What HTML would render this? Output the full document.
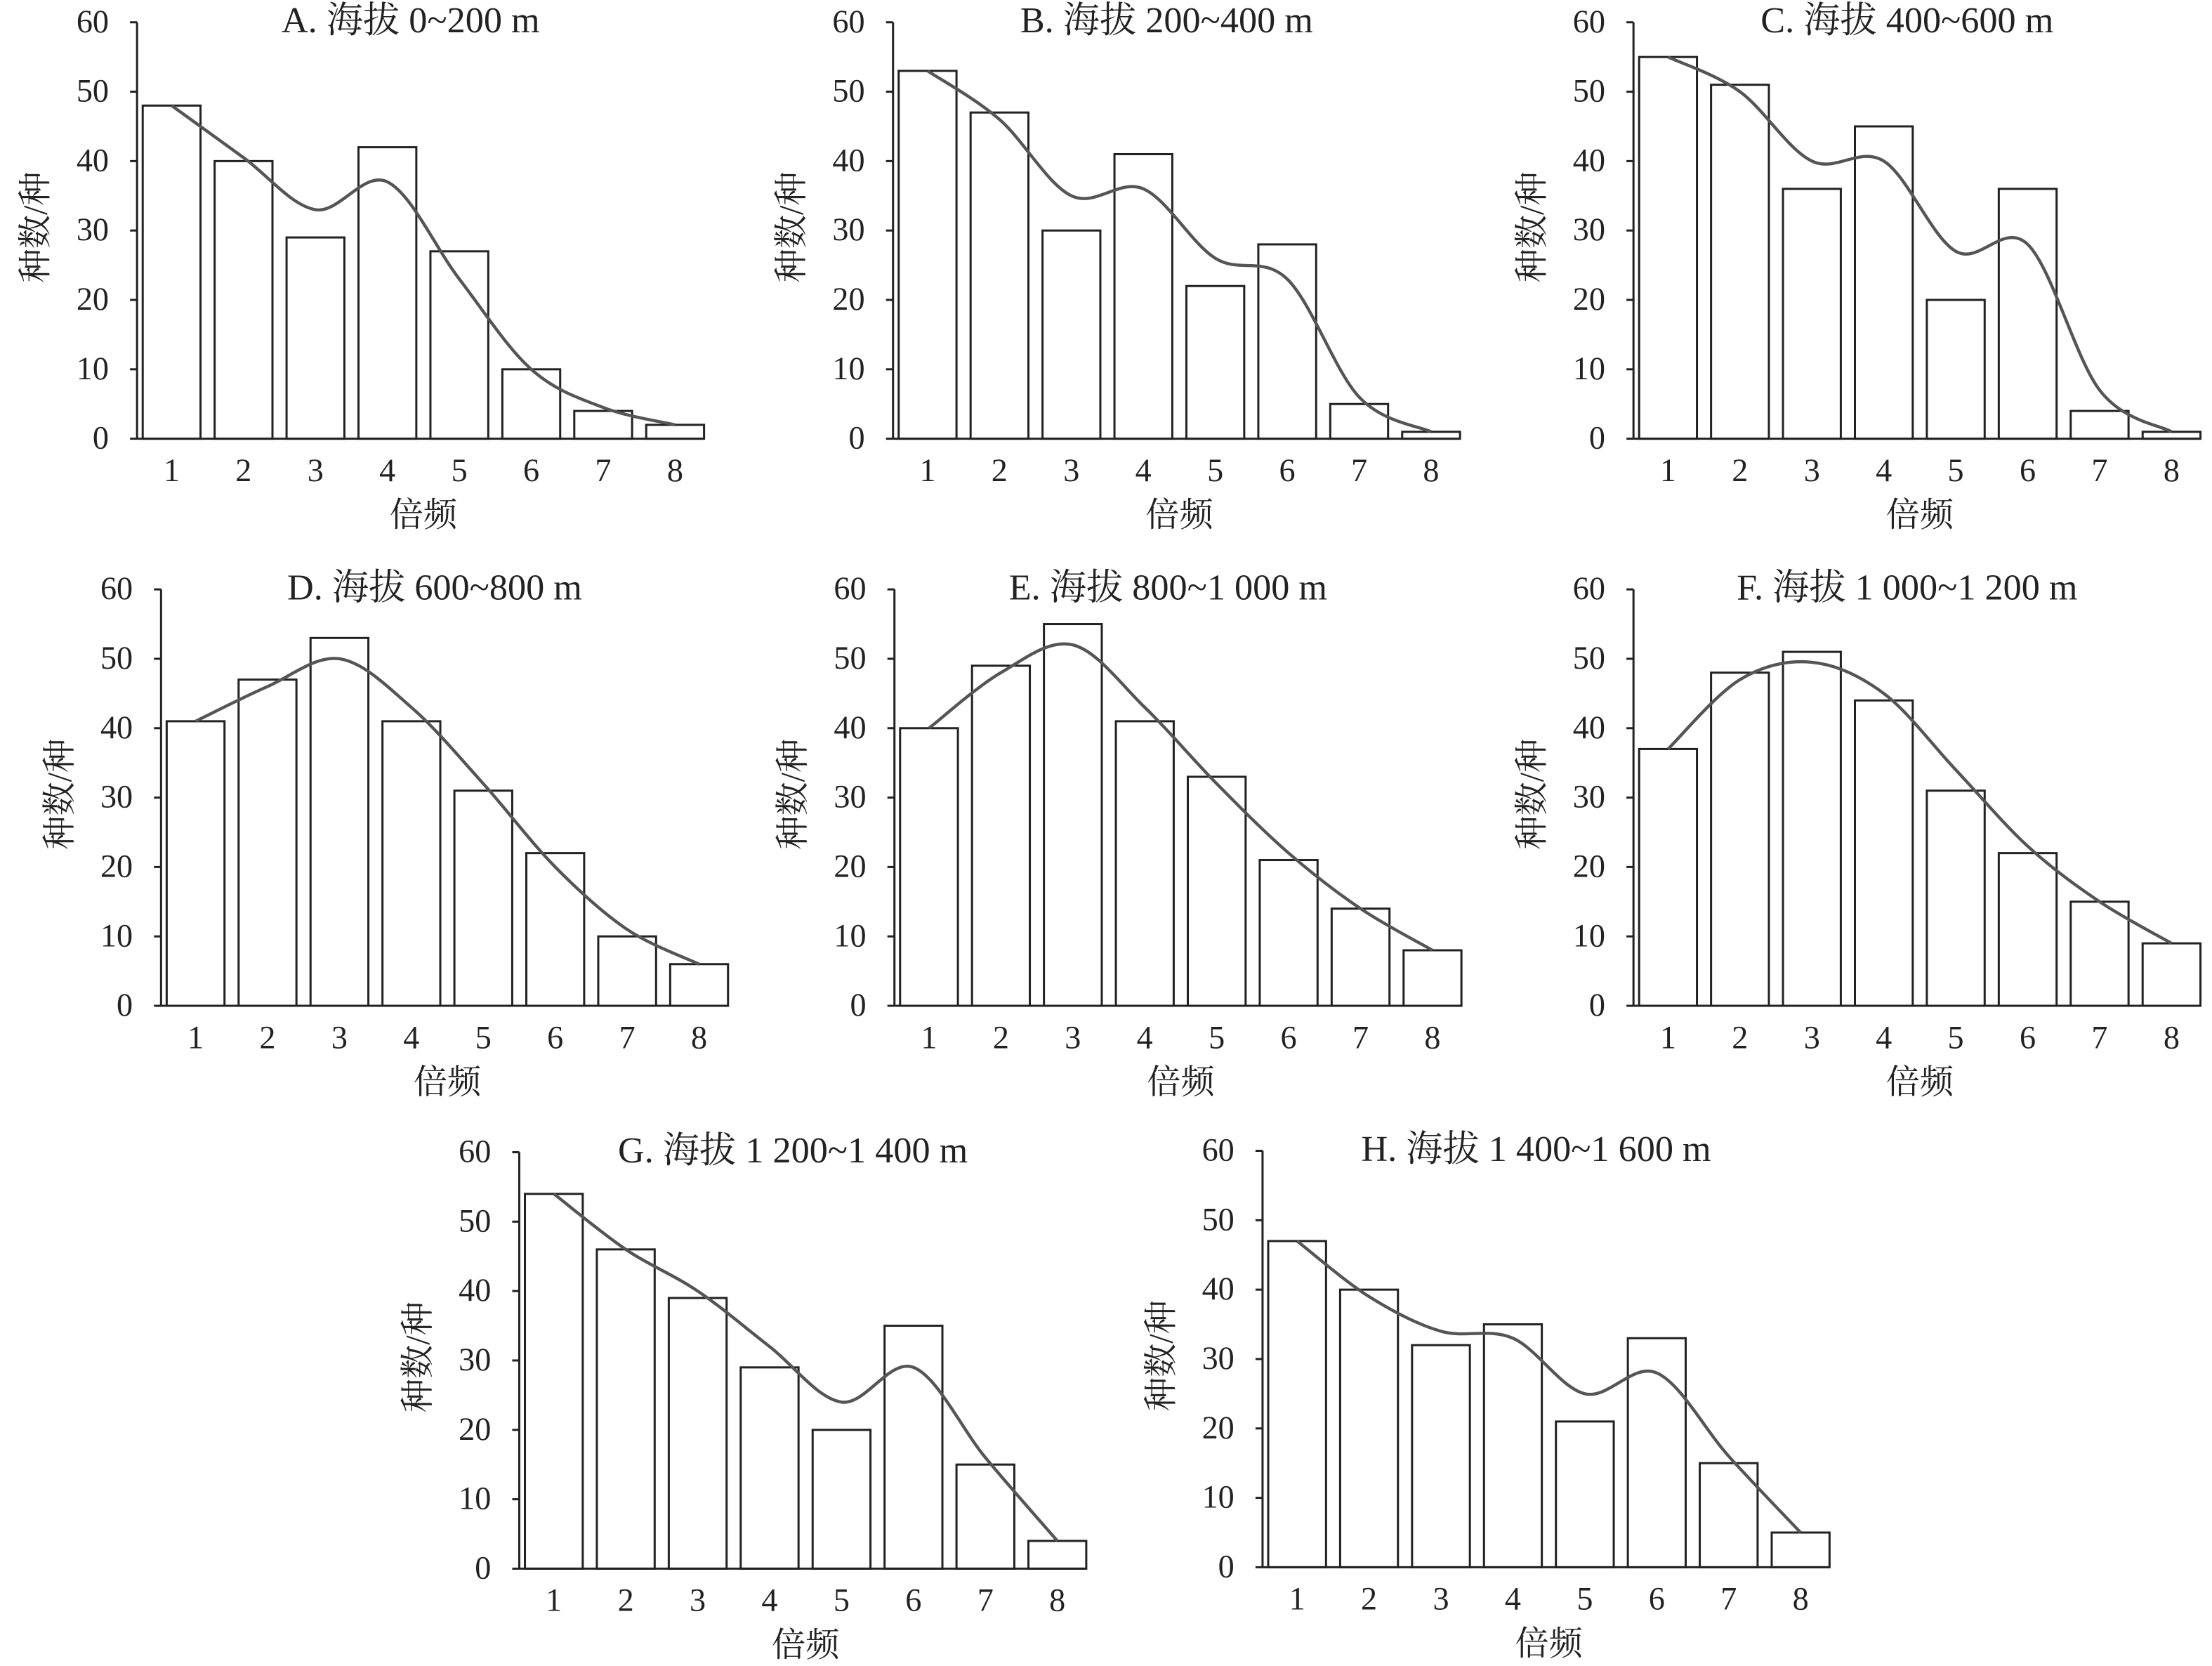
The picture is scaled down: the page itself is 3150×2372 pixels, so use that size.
<!DOCTYPE html>
<html><head><meta charset="utf-8"><style>
html,body{margin:0;padding:0;background:#fff;}
svg{display:block;}
text{font-family:"Liberation Serif","Noto Serif CJK SC",serif;fill:#222;}
</style></head><body>
<svg id="s" width="3150" height="2372" viewBox="0 0 1568 1181" xmlns="http://www.w3.org/2000/svg"></svg>
<script>
const P=[
{ax:97,y0:311,t:"A. 海拔 0~200 m",b:[48,40,29,42,27,10,4,2],c:[48,40.5,33,37,23,10,4.5,2]},
{ax:633,y0:311,t:"B. 海拔 200~400 m",b:[53,47,30,41,22,28,5,1],c:[53,46,35,36,26,23,6,1]},
{ax:1158,y0:311,t:"C. 海拔 400~600 m",b:[55,51,36,45,20,36,4,1],c:[55,50,40,40,27,28,7,1]},
{ax:114,y0:713,t:"D. 海拔 600~800 m",b:[41,47,53,41,31,22,10,6],c:[41,46,50,43,32,20,11,6]},
{ax:634,y0:713,t:"E. 海拔 800~1 000 m",b:[40,49,55,41,33,21,14,8],c:[40,48,52,43,32,22,14,8]},
{ax:1158,y0:713,t:"F. 海拔 1 000~1 200 m",b:[37,48,51,44,31,22,15,9],c:[37,47,49.5,45,34,23,15,9]},
{ax:368,y0:1112,t:"G. 海拔 1 200~1 400 m",b:[54,46,39,29,20,35,15,4],c:[54,46,40,32,24,29,16,4]},
{ax:895,y0:1111,t:"H. 海拔 1 400~1 600 m",b:[47,40,32,35,21,33,15,5],c:[47,39,34,33,25,28,16,5]}];
let h="";const k=4.92;
for(const p of P){
 const a=p.ax,y=p.y0;
 for(let i=0;i<8;i++){const x=a+4+i*51,hh=p.b[i]*k;
  h+=`<rect x="${x}" y="${y-hh}" width="41" height="${hh}" fill="#fff" stroke="#222" stroke-width="1.5"/>`;
  h+=`<text x="${x+20.5}" y="${y+30}" font-size="23" text-anchor="middle">${i+1}</text>`;}
 for(let v=0;v<=60;v+=10){const yy=y-v*k;
  h+=`<line x1="${a-5}" y1="${yy}" x2="${a}" y2="${yy}" stroke="#222" stroke-width="1.5"/>`;
  h+=`<text x="${a-20}" y="${yy+7}" font-size="23" text-anchor="end">${v}</text>`;}
 h+=`<line x1="${a}" y1="${y-60*k}" x2="${a}" y2="${y}" stroke="#222" stroke-width="1.5"/>`;
 h+=`<line x1="${a}" y1="${y}" x2="${a+401}" y2="${y}" stroke="#222" stroke-width="1.5"/>`;
 h+=`<text x="${a+194}" y="${y-288}" font-size="26" text-anchor="middle">${p.t}</text>`;
 h+=`<text x="${a+203}" y="${y+62}" font-size="24" text-anchor="middle">倍频</text>`;
 h+=`<text transform="translate(${a-64},${y-150}) rotate(-90)" font-size="24" text-anchor="middle">种数/种</text>`;
 const pts=p.c.map((v,i)=>[a+24.5+i*51,y-v*k]);
 let d=`M${pts[0][0]},${pts[0][1]}`;
 for(let i=0;i<7;i++){const p0=pts[Math.max(i-1,0)],p1=pts[i],p2=pts[i+1],p3=pts[Math.min(i+2,7)];
  d+=` C${p1[0]+(p2[0]-p0[0])/6},${p1[1]+(p2[1]-p0[1])/6} ${p2[0]-(p3[0]-p1[0])/6},${p2[1]-(p3[1]-p1[1])/6} ${p2[0]},${p2[1]}`;}
 h+=`<path d="${d}" fill="none" stroke="#555" stroke-width="2.2"/>`;
}
document.getElementById("s").innerHTML=h;
</script>
</body></html>
